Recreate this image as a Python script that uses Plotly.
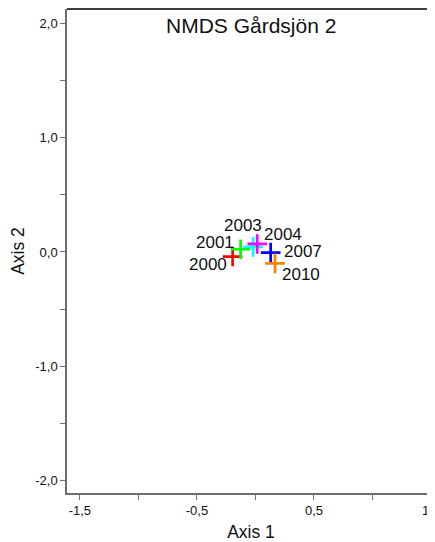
import plotly.graph_objects as go

years = ["2000", "2001", "2003", "2004", "2007", "2010"]
axis1 = [-0.195, -0.127, -0.02, 0.015, 0.13, 0.167]
axis2 = [-0.04, 0.024, 0.045, 0.07, -0.005, -0.10]
colors = ["#FF0000", "#00FF00", "#00FFFF", "#FF00FF", "#0000FF", "#FF8000"]
label_dx = [-25, -26, -10, 26, 32, 26]
label_dy = [-8, 7, 21, 9, 1, -11]

x_ticks = [-1.5, -1.0, -0.5, 0.0, 0.5, 1.0, 1.5]
x_labels = ["-1,5", "", "-0,5", "", "0,5", "", "1,5"]
y_ticks = [-2.0, -1.5, -1.0, -0.5, 0.0, 0.5, 1.0, 1.5, 2.0]
y_labels = ["-2,0", "", "-1,0", "", "0,0", "", "1,0", "", "2,0"]

fig = go.Figure()
fig.add_trace(go.Scatter(
    x=axis1, y=axis2, mode="markers",
    marker=dict(symbol="cross-thin", size=14, color=colors,
                line=dict(width=2.7, color=colors)),
    showlegend=False, hoverinfo="skip"))

for yr, xv, yv, dx, dy in zip(years, axis1, axis2, label_dx, label_dy):
    fig.add_annotation(x=xv, y=yv, text=yr, showarrow=False,
                       xshift=dx, yshift=dy,
                       font=dict(family="Liberation Sans, Arial", size=17, color="#111111"))

fig.add_annotation(text="NMDS Gårdsjön 2", x=0.5, y=0.966, xref="paper", yref="paper",
                   xanchor="center", yanchor="middle", showarrow=False,
                   font=dict(family="Liberation Sans, Arial", size=21, color="#111111"))

fig.add_shape(type="line", xref="paper", yref="paper", x0=0, x1=1, y0=1, y1=1,
              line=dict(color="#000000", width=1.5))

axis_common = dict(showgrid=False, zeroline=False, showline=True, linecolor="#6e6e6e",
                   linewidth=1.5, ticks="outside", ticklen=5, tickwidth=1.2,
                   tickcolor="#6e6e6e", automargin=False, ticklabeloverflow="allow",
                   tickfont=dict(family="Liberation Sans, Arial", size=13, color="#111111"),
                   title_font=dict(family="Liberation Sans, Arial", size=17.5, color="#111111"))

fig.update_xaxes(range=[-1.61, 1.534], tickmode="array", tickvals=x_ticks, ticktext=x_labels,
                 title_text="Axis 1", title_standoff=10, **axis_common)
fig.update_yaxes(range=[-2.11, 2.127], tickmode="array", tickvals=y_ticks, ticktext=y_labels,
                 title_text="Axis 2", title_standoff=12, **axis_common)

fig.update_layout(width=427, height=534, template="none",
                  margin=dict(l=59, r=0, t=1, b=49),
                  plot_bgcolor="white", paper_bgcolor="white")

fig.write_html("out.html")
